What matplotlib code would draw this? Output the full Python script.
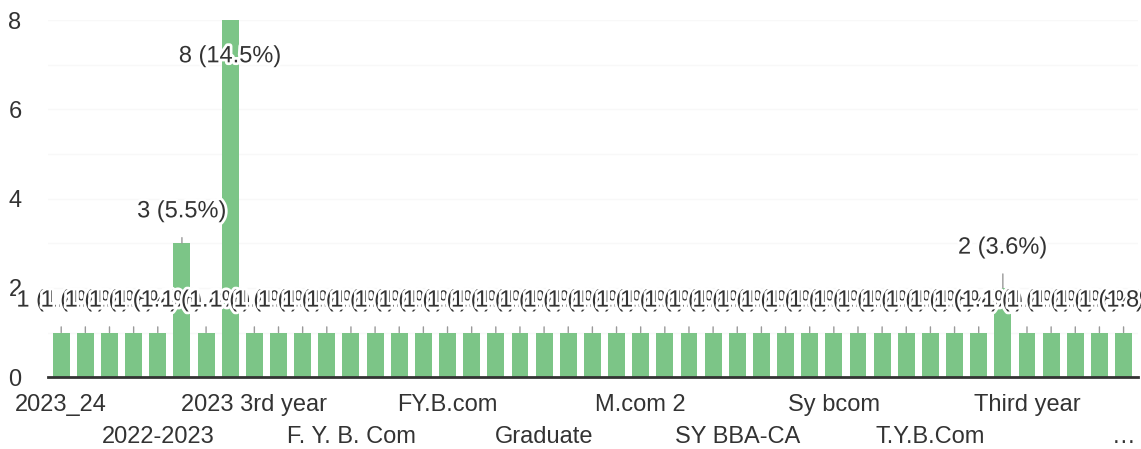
import matplotlib

matplotlib.use("Agg")
import matplotlib.pyplot as plt
import matplotlib.patheffects as pe

# counts per answer (45 answers, total 55 responses)
values = [1] * 45
values[5] = 3
values[7] = 8
values[39] = 2

# only every 4th category name is shown on the axis
tick_labels = [
    "2023_24", "2022-2023", "2023 3rd year", "F. Y. B. Com",
    "FY.B.com", "Graduate", "M.com 2", "SY BBA-CA",
    "Sy bcom", "T.Y.B.Com", "Third year", "\u2026",
]
tick_step = 4

y_ticks = [0, 2, 4, 6, 8]

BAR_COLOR = "#7cc587"
TEXT_COLOR = "#333333"

plt.rcParams["font.family"] = ["Liberation Sans", "DejaVu Sans"]

fig = plt.figure(figsize=(11.41, 4.49), dpi=100)
ax = fig.add_axes([0.042, 0.160, 0.955, 0.795])

x = list(range(len(values)))
ax.bar(x, values, width=0.7, color=BAR_COLOR, zorder=2)

ax.set_xlim(-0.55, len(values) - 0.42)
ax.set_ylim(0, 8)

# very faint gridlines at every unit
for g in range(1, 9):
    ax.axhline(g, color="#f8f8f8", linewidth=1, zorder=0)

for s in ["top", "right", "left"]:
    ax.spines[s].set_visible(False)
ax.spines["bottom"].set_color("#333333")
ax.spines["bottom"].set_linewidth(2)
ax.spines["bottom"].set_zorder(5)

ax.set_yticks(y_ticks)
ax.set_yticklabels([str(t) for t in y_ticks], fontsize=17, color=TEXT_COLOR)
ax.tick_params(axis="y", length=0, pad=19)

tick_pos = [i * tick_step for i in range(len(tick_labels))]
ax.set_xticks(tick_pos)
ax.set_xticklabels([])
ax.tick_params(axis="x", length=0)
for i, (p, t) in enumerate(zip(tick_pos, tick_labels)):
    ax.annotate(t, xy=(p, 0), xycoords="data", xytext=(0, -20 if i % 2 == 0 else -43),
                textcoords="offset points", ha="center", va="center",
                fontsize=17, color=TEXT_COLOR, annotation_clip=False)

total = sum(values)
halo = [pe.withStroke(linewidth=4, foreground="white")]
for i, v in enumerate(values):
    label = f"{v} ({v / total * 100:.1f}%)"
    if v == max(values):
        ax.annotate(label, xy=(i, v), xytext=(0, -26), textcoords="offset points",
                    ha="center", va="center", fontsize=17, color=TEXT_COLOR,
                    path_effects=halo, zorder=4)
        continue
    off = 23 if v != 2 else 29
    ax.annotate(label, xy=(i, v), xytext=(0, off), textcoords="offset points",
                ha="center", va="center", fontsize=17, color=TEXT_COLOR,
                path_effects=halo, zorder=4, annotation_clip=False,
                arrowprops=dict(arrowstyle="-", color="#999999", lw=1,
                                shrinkA=9, shrinkB=0))

fig.savefig("out.png", dpi=100)
